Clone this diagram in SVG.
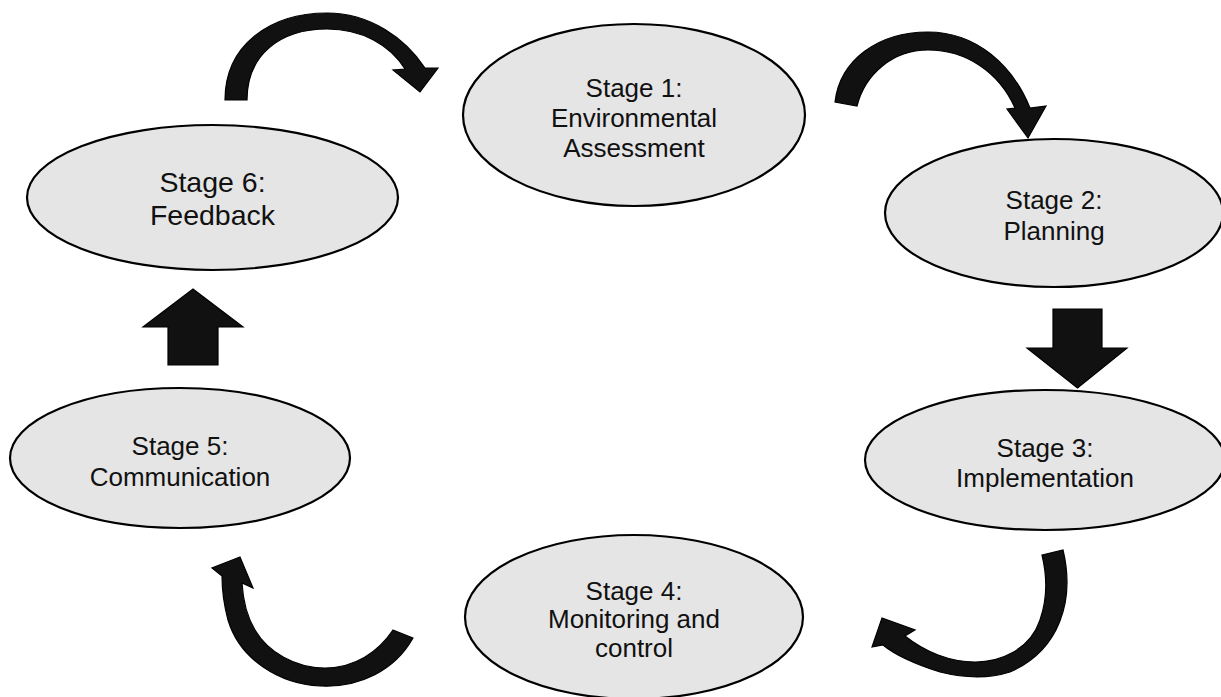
<svg xmlns="http://www.w3.org/2000/svg" width="1221" height="697" viewBox="0 0 1221 697">
<style>
.node ellipse{fill:#e5e5e5;stroke:#000;stroke-width:2.2}
.node text{font-family:"Liberation Sans",Arial,sans-serif;font-size:26px;fill:#111;text-anchor:middle}
.big text{font-size:28.5px}
.arr{fill:#111;stroke:#000;stroke-width:1.2;stroke-linejoin:miter}
</style>
<rect width="1221" height="697" fill="#fff"/>
<g id="connectors">
<path id="a61" class="arr" d="M225,100 C225,45 270,13 327,13 C370,13 405,38 425,68 L438,68 L420,92 L393,70 L405,69 C390,45 362,29 327,29 C280,29 247,55 247,100 Z"/>
<path id="a12" class="arr" d="M835,102 C840,60 878,32 928,32 C977,32 1013,66 1030,108 L1046,106 L1028,138 L1007,109 L1015,108 C999,72 966,50 928,50 C893,50 865,74 857,106 Z"/>
<path id="a23" class="arr" d="M1053,309 L1102,309 L1102,348 L1127,348 L1077.5,388 L1027,348 L1053,348 Z"/>
<path id="a34" class="arr" d="M1042,555 L1063,550 C1075,600 1060,650 1010,672 C985,680 960,677 940,672 C915,664 895,655 883,645 L872,647 L882,618 L915,630 L905,636 C925,652 950,662 975,662 C1000,662 1030,650 1040,620 C1047,600 1048,580 1042,555 Z"/>
<path id="a45" class="arr" d="M393,630 L413,638 C395,670 360,688 320,686 C280,684 240,660 228,620 C224,605 222,590 222,576 L212,568 L240,557 L253,588 L242,583 C243,600 246,615 255,630 C268,652 295,668 325,668 C355,668 378,652 393,630 Z"/>
<path id="a56" class="arr" d="M168,365 L218,365 L218,327 L243,327 L193,289 L143,327 L168,327 Z"/>
</g>
<g id="stage1" class="node">
<ellipse cx="634" cy="115" rx="171" ry="91"/>
<text x="634" y="97">Stage 1:</text>
<text x="634" y="127">Environmental</text>
<text x="634" y="157">Assessment</text>
</g>
<g id="stage2" class="node">
<ellipse cx="1054" cy="213" rx="169" ry="74"/>
<text x="1054" y="209">Stage 2:</text>
<text x="1054" y="240">Planning</text>
</g>
<g id="stage3" class="node">
<ellipse cx="1045" cy="460" rx="180" ry="70"/>
<text x="1045" y="457">Stage 3:</text>
<text x="1045" y="487">Implementation</text>
</g>
<g id="stage4" class="node">
<ellipse cx="634" cy="617" rx="169" ry="82"/>
<text x="634" y="600">Stage 4:</text>
<text x="634" y="628">Monitoring and</text>
<text x="634" y="657">control</text>
</g>
<g id="stage5" class="node">
<ellipse cx="180" cy="458" rx="170" ry="70"/>
<text x="180" y="455">Stage 5:</text>
<text x="180" y="486">Communication</text>
</g>
<g id="stage6" class="node big">
<ellipse cx="212.5" cy="197.5" rx="185.5" ry="72.5"/>
<text x="212.5" y="192">Stage 6:</text>
<text x="212.5" y="225">Feedback</text>
</g>
</svg>
